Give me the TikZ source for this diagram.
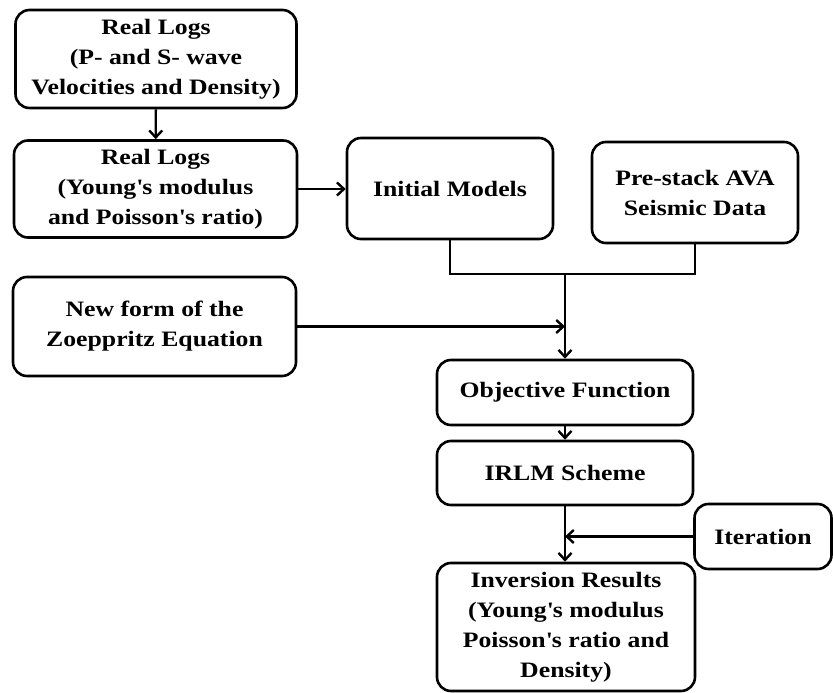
\documentclass[tikz,border=0pt]{standalone}
\usepackage{fontspec}
\setmainfont[FakeStretch=1.17]{Liberation Serif}
\usetikzlibrary{arrows.meta, positioning}

\begin{document}
\begin{tikzpicture}[x=1pt, y=-1pt,
  box/.style={draw, line width=2.6pt, rounded corners=14pt, align=center,
    inner sep=2pt, font=\fontsize{22}{30}\selectfont\bfseries},
  flowarrow/.style={line width=2.4pt, -{Straight Barb[length=7pt, width=13pt]}},
  flowline/.style={line width=2.4pt}]
\useasboundingbox (0,0) rectangle (833,693);

% Well logs
\node[box, minimum width=281pt, minimum height=98pt] (logsvel) at (156,59)
  {Real Logs\\(P- and S- wave\\Velocities and Density)};
\node[box, minimum width=283pt, minimum height=97pt] (logsmod) at (155.5,189)
  {Real Logs\\(Young\textquotesingle s modulus\\and Poisson\textquotesingle s ratio)};

% Inputs
\node[box, minimum width=206pt, minimum height=101pt] (init) at (450,188.5) {Initial Models};
\node[box, minimum width=206pt, minimum height=101pt] (seis) at (695,192.5)
  {Pre-stack AVA\\Seismic Data};
\node[box, minimum width=283pt, minimum height=99pt] (zoep) at (154.5,326.5)
  {New form of the\\Zoeppritz Equation};

% Inversion chain
\node[box, minimum width=256pt, minimum height=65pt] (objfun) at (565,392.5) {Objective Function};
\node[box, minimum width=256pt, minimum height=64pt] (irlm) at (565,473) {IRLM Scheme};
\node[box, minimum width=137pt, minimum height=65pt] (iter) at (763,536.5) {Iteration};
\node[box, minimum width=258pt, minimum height=128pt] (result) at (566,627)
  {Inversion Results\\(Young\textquotesingle s modulus\\Poisson\textquotesingle s ratio and\\Density)};

% Connectors
\coordinate (join) at (565,274);
\draw[flowarrow] (logsvel) -- (logsmod);
\draw[flowarrow] (logsmod.east) -- (logsmod.east -| init.west);
\draw[flowline] (init.south) |- (join) -| (seis.south);
\draw[flowarrow] (join) -- (objfun.north);
\draw[flowarrow] (zoep.east) -- (zoep.east -| join);
\draw[flowarrow] (objfun) -- (irlm);
\draw[flowarrow] (irlm.south) -- (result.north -| irlm.south);
\draw[flowarrow] (iter.west) -- (iter.west -| irlm.south);
\end{tikzpicture}
\end{document}
